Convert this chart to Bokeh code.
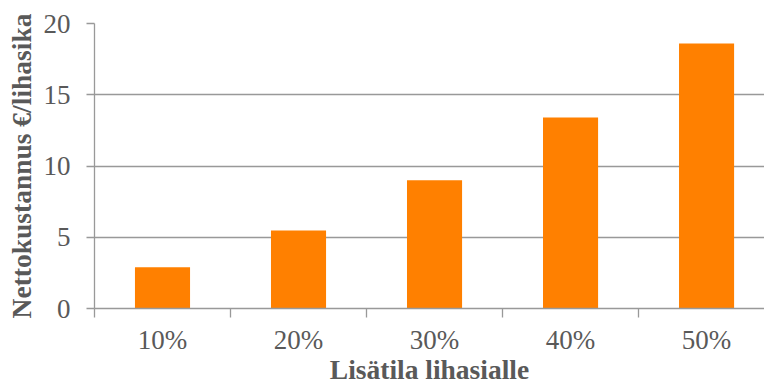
from bokeh.plotting import figure
from bokeh.models import Range1d, FixedTicker
from bokeh.embed import file_html
from bokeh.resources import INLINE

categories = ["10%", "20%", "30%", "40%", "50%"]
values = [2.9, 5.47, 9.0, 13.4, 18.6]
y_ticks = [0, 5, 10, 15, 20]
x_title = "Lisätila lihasialle"
y_title = "Nettokustannus €/lihasika"

positions = [i + 0.5 for i in range(len(categories))]
boundaries = [i for i in range(len(categories) + 1)]

p = figure(width=764, height=387, output_backend="svg", toolbar_location=None,
           x_range=Range1d(0, 4.926), y_range=Range1d(0, 20),
           min_border_left=94, min_border_right=0, min_border_top=23, min_border_bottom=78)

p.vbar(x=positions, top=values, width=0.405, color="#FF8000", line_color=None)

GRAY = "#999999"
TXT = "#595959"
FONT = "Liberation Serif"

p.outline_line_color = None
p.background_fill_color = "white"
p.border_fill_color = "white"

p.xgrid.visible = False
p.ygrid.ticker = FixedTicker(ticks=y_ticks)
p.ygrid.grid_line_color = GRAY
p.ygrid.grid_line_width = 1.3

xa = p.xaxis[0]
xa.ticker = FixedTicker(ticks=positions, minor_ticks=boundaries)
xa.major_label_overrides = {pos: c for pos, c in zip(positions, categories)}
xa.major_tick_out = 0
xa.major_tick_in = 0
xa.minor_tick_out = 9
xa.minor_tick_in = 0
xa.minor_tick_line_color = GRAY
xa.minor_tick_line_width = 1.3
xa.axis_line_color = GRAY
xa.axis_line_width = 1.3
xa.major_label_text_font = FONT
xa.major_label_text_font_size = "27px"
xa.major_label_text_color = TXT
xa.major_label_standoff = 7
xa.axis_label = x_title
xa.axis_label_text_font = FONT
xa.axis_label_text_font_size = "27.5px"
xa.axis_label_text_font_style = "bold"
xa.axis_label_text_color = TXT
xa.axis_label_standoff = -4

ya = p.yaxis[0]
ya.ticker = FixedTicker(ticks=y_ticks, minor_ticks=[])
ya.major_tick_out = 8
ya.major_tick_in = 0
ya.major_tick_line_color = GRAY
ya.major_tick_line_width = 1.3
ya.axis_line_color = GRAY
ya.axis_line_width = 1.3
ya.major_label_text_font = FONT
ya.major_label_text_font_size = "27px"
ya.major_label_text_color = TXT
ya.major_label_standoff = 16
ya.axis_label = y_title
ya.axis_label_text_font = FONT
ya.axis_label_text_font_size = "27.5px"
ya.axis_label_text_font_style = "bold"
ya.axis_label_text_color = TXT
ya.axis_label_standoff = 4

open("out.html", "w").write(file_html(p, INLINE))
